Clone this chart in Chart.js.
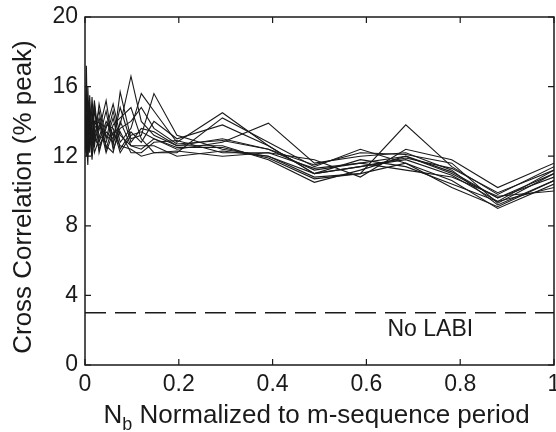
<!DOCTYPE html>
<html>
<head>
<meta charset="utf-8">
<script src="https://cdn.jsdelivr.net/npm/chart.js@4.4.0/dist/chart.umd.min.js"></script>
<style>
  html, body { margin: 0; padding: 0; background: #fff; }
  canvas { display: block; }
</style>
</head>
<body>
<canvas id="c" width="556" height="432"></canvas>
<script>
// ---- data ----
const xValues = [0, 0.003, 0.006, 0.01, 0.015, 0.02, 0.03, 0.045, 0.06, 0.075, 0.098, 0.12, 0.147, 0.196, 0.293, 0.391, 0.489, 0.587, 0.684, 0.782, 0.880, 1.0];
const series1  = [13.5, 17.2, 12.0, 14.5, 13.0, 15.2, 12.8, 14.0, 13.2, 13.8, 16.6, 14.0, 13.2, 12.6, 13.0, 12.4, 11.2, 11.6, 12.0, 11.0, 9.6, 10.8];
const series2  = [13.0, 12.0, 16.0, 13.2, 14.8, 12.5, 15.0, 13.0, 14.6, 12.8, 13.6, 15.6, 14.6, 12.8, 14.5, 12.6, 11.0, 11.4, 11.8, 10.9, 9.4, 11.2];
const series3  = [14.0, 13.0, 11.5, 15.5, 12.6, 14.0, 13.5, 15.2, 12.6, 15.7, 13.0, 13.2, 15.6, 13.2, 12.4, 12.0, 10.8, 11.0, 13.8, 11.4, 9.8, 11.4];
const series4  = [12.5, 15.5, 13.8, 12.2, 14.2, 13.4, 12.4, 13.6, 15.0, 13.2, 12.6, 12.4, 13.0, 12.4, 12.8, 13.9, 11.6, 12.0, 12.2, 11.2, 9.2, 10.6];
const series5  = [13.2, 14.0, 12.8, 13.6, 11.8, 13.8, 14.6, 12.4, 13.8, 14.2, 14.8, 13.0, 12.2, 12.2, 14.2, 12.8, 11.4, 12.4, 11.6, 10.6, 9.0, 10.4];
const series6  = [12.8, 13.4, 14.6, 12.6, 13.6, 12.2, 13.0, 14.6, 12.4, 13.4, 12.2, 12.2, 12.8, 12.9, 12.2, 12.2, 11.8, 10.8, 12.4, 11.8, 10.2, 11.6];
const series7  = [14.4, 12.4, 13.4, 14.0, 12.4, 14.6, 13.2, 12.8, 14.2, 12.4, 13.4, 12.8, 14.0, 13.0, 13.8, 12.6, 11.0, 11.8, 11.4, 10.4, 9.4, 10.2];
const series8  = [13.6, 15.8, 12.6, 13.0, 15.4, 13.0, 12.6, 13.4, 13.0, 14.8, 12.8, 13.6, 13.4, 12.6, 12.6, 11.8, 10.5, 11.2, 12.0, 11.1, 9.6, 11.0];
const series9  = [12.2, 13.6, 13.2, 14.8, 12.8, 13.6, 14.0, 12.2, 13.4, 12.6, 12.4, 12.0, 12.2, 12.3, 12.0, 12.2, 11.3, 11.6, 11.2, 10.8, 9.7, 10.0];
const series10 = [13.8, 12.6, 15.2, 13.4, 13.2, 12.8, 13.8, 13.2, 12.8, 13.6, 14.0, 14.8, 13.6, 12.7, 12.9, 12.4, 11.5, 12.2, 12.1, 11.6, 9.3, 11.0];
const series11 = [13.0, 14.4, 12.2, 12.8, 14.0, 15.0, 12.2, 13.8, 13.6, 12.2, 13.2, 13.4, 13.0, 12.5, 12.5, 11.9, 10.7, 11.0, 11.6, 10.2, 9.1, 10.6];
const series12 = [13.4, 12.8, 14.2, 13.8, 12.0, 13.2, 14.2, 12.6, 12.2, 14.0, 12.6, 12.6, 12.6, 12.0, 12.3, 12.0, 11.0, 11.4, 11.9, 11.3, 9.9, 11.2];
const noLabiLevel = 3;
const noLabiLabel = "No LABI";
const xTicks = [0, 0.2, 0.4, 0.6, 0.8, 1];
const yTicks = [0, 4, 8, 12, 16, 20];
const yTitle = "Cross Correlation (% peak)";
const xTitleMain = "N";
const xTitleSub = "b";
const xTitleRest = " Normalized to m-sequence period";

const allSeries = [series1, series2, series3, series4, series5, series6, series7, series8, series9, series10, series11, series12];

const FONT = '"Liberation Sans", Arial, Helvetica, sans-serif';
const INK = '#1a1a1a';

const datasets = allSeries.map(s => ({
  data: s.map((v, i) => ({ x: xValues[i], y: v })),
  borderColor: INK,
  borderWidth: 1.1,
  pointRadius: 0,
  tension: 0,
  fill: false
}));
datasets.push({
  data: [{ x: 0, y: noLabiLevel }, { x: 1, y: noLabiLevel }],
  borderColor: INK,
  borderWidth: 1.5,
  borderDash: [21, 9],
  pointRadius: 0,
  fill: false
});

const framePlugin = {
  id: 'frame',
  afterDraw(chart) {
    const { ctx, chartArea: a, scales } = chart;
    ctx.save();
    ctx.strokeStyle = INK;
    ctx.lineWidth = 1.5;
    ctx.strokeRect(a.left, a.top, a.right - a.left, a.bottom - a.top);
    const tl = 6;
    ctx.lineWidth = 1.2;
    ctx.beginPath();
    xTicks.forEach(t => {
      const px = scales.x.getPixelForValue(t);
      ctx.moveTo(px, a.bottom); ctx.lineTo(px, a.bottom - tl);
      ctx.moveTo(px, a.top); ctx.lineTo(px, a.top + tl);
    });
    yTicks.forEach(t => {
      const py = scales.y.getPixelForValue(t);
      ctx.moveTo(a.left, py); ctx.lineTo(a.left + tl, py);
      ctx.moveTo(a.right, py); ctx.lineTo(a.right - tl, py);
    });
    ctx.stroke();

    // No LABI label
    ctx.fillStyle = INK;
    ctx.font = '23px ' + FONT;
    ctx.textAlign = 'left';
    ctx.textBaseline = 'alphabetic';
    ctx.fillText(noLabiLabel, scales.x.getPixelForValue(0.645), scales.y.getPixelForValue(noLabiLevel) + 23);

    // y title
    ctx.save();
    ctx.translate(24, (a.top + a.bottom) / 2 + 6);
    ctx.rotate(-Math.PI / 2);
    ctx.font = '26px ' + FONT;
    ctx.textAlign = 'center';
    ctx.textBaseline = 'middle';
    ctx.fillText(yTitle, 0, 0);
    ctx.restore();

    // x title with subscript
    const big = '26px ' + FONT, small = '18px ' + FONT;
    ctx.font = big; const wN = ctx.measureText(xTitleMain).width;
    const wR = ctx.measureText(xTitleRest).width;
    ctx.font = small; const wB = ctx.measureText(xTitleSub).width;
    const total = wN + wB + wR;
    let x0 = (a.left + a.right) / 2 - total / 2 - 3;
    const base = 423;
    ctx.textAlign = 'left';
    ctx.font = big; ctx.fillText(xTitleMain, x0, base);
    ctx.font = small; ctx.fillText(xTitleSub, x0 + wN, base + 7);
    ctx.font = big; ctx.fillText(xTitleRest, x0 + wN + wB, base);
    ctx.restore();
  }
};

new Chart(document.getElementById('c'), {
  type: 'line',
  data: { datasets },
  options: {
    responsive: false,
    animation: false,
    events: [],
    layout: { padding: { top: 17, right: 2, left: 0, bottom: 0 } },
    plugins: { legend: { display: false }, tooltip: { enabled: false }, title: { display: false } },
    scales: {
      x: {
        type: 'linear', min: 0, max: 1,
        grid: { display: false, drawTicks: false },
        border: { display: false },
        afterBuildTicks(scale) { scale.ticks = xTicks.map(v => ({ value: v })); },
        afterFit(scale) { scale.height = 67; scale.paddingLeft = 0; scale.paddingRight = 0; },
        ticks: {
          color: INK, padding: 6,
          font: { family: FONT, size: 23 },
          maxRotation: 0, autoSkip: false,
          callback: v => String(v)
        }
      },
      y: {
        type: 'linear', min: 0, max: 20,
        grid: { display: false, drawTicks: false },
        border: { display: false },
        afterBuildTicks(scale) { scale.ticks = yTicks.map(v => ({ value: v })); },
        afterFit(scale) { scale.width = 85; scale.paddingTop = 0; scale.paddingBottom = 0; },
        ticks: {
          color: INK, padding: 7,
          font: { family: FONT, size: 23 },
          autoSkip: false,
          callback: v => String(v)
        }
      }
    }
  },
  plugins: [framePlugin]
});
</script>
</body>
</html>
